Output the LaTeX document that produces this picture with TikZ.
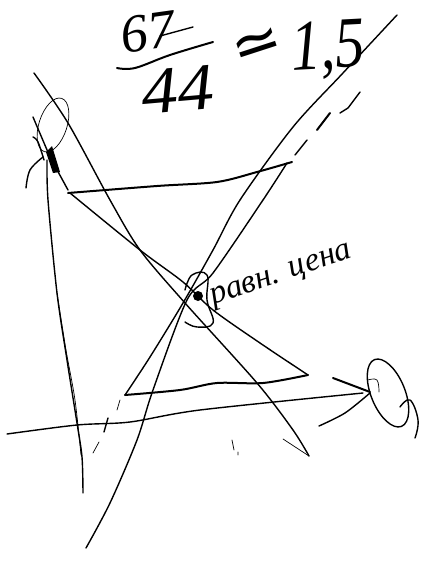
\documentclass[tikz,border=0pt]{standalone}
\usepackage{fontspec}
\setmainfont{Liberation Serif}
\newfontfamily\symfont{DejaVu Sans}
\usepackage{tikz}
\tikzset{
  pen/.style={line width=1.4pt, line cap=round, line join=round},
  thinpen/.style={line width=0.7pt, line cap=round, line join=round},
  heavypen/.style={line width=2pt, line cap=round, line join=round},
  hand/.style={inner sep=0pt, font=\itshape},
}
\begin{document}
\begin{tikzpicture}[x=1pt, y=-1pt]
  \useasboundingbox (0,0) rectangle (432,562);
  % Fraction and estimate
  \node[hand, rotate=8] (numer) at (148,32) {\fontsize{54}{54}\selectfont 67};
  \node[hand, rotate=5, xscale=1.1] (denom) at (178,90) {\fontsize{66}{66}\selectfont 44};
  \node[inner sep=0pt, rotate=18] (approx) at (258,48) {\fontsize{60}{60}\selectfont\symfont ≃};
  \node[hand, rotate=3, xscale=.82] (estim) at (328,50) {\fontsize{72}{72}\selectfont 1,5};
  \draw[heavypen] plot[smooth, tension=.6] coordinates {(117,68) (135,68) (170,55) (213,42)};
  \draw[pen] (160,36) -- (193,27);
  % Falling line with its hook
  \draw[pen] plot[smooth, tension=.5] coordinates {(34,73) (68,123) (110,200) (140,250) (185,303) (257,383) (293,430) (309,456)};
  \draw[thinpen] (309,456) -- (283,439);
  \draw[thinpen] (232,440) -- (234,450) (238,455) -- (238,452);
  % Top side of the triangle
  \draw[heavypen] plot[smooth, tension=.5] coordinates {(68,193) (157,186) (217,182) (257,172) (292,162)};
  % Long diagonal, then bottom side of the triangle
  \draw[pen] plot[smooth, tension=.5] coordinates {(70,193) (140,250) (183,282) (213,310) (260,343) (308,375)};
  \draw[heavypen] plot[smooth, tension=.5] coordinates {(308,375) (263,383) (217,383) (180,390) (125,395)};
  % Rising lines
  \draw[pen] plot[smooth, tension=.5] coordinates {(125,395) (150,357) (183,303) (213,250) (240,200) (293,127) (343,73) (397,15)};
  \draw[pen] plot[smooth, tension=.5] coordinates {(86,548) (110,503) (137,440) (153,390) (187,300) (213,273) (263,200) (287,163)};
  \draw[pen] (295,155) -- (307,140);
  \draw[heavypen] (317,130) -- (330,113);
  \draw[pen] (340,113) -- (348,108) -- (360,92);
  % Dashes below the triangle
  \draw[thinpen] (120,400) -- (117,410);
  \draw[pen] (108,418) -- (104,432);
  \draw[thinpen] (99,442) -- (93,453);
  % Left vertical
  \draw[pen] plot[smooth, tension=.5] coordinates {(47,160) (48,200) (57,293) (67,360) (77,423) (82,457) (83,493)};
  \draw[thinpen] plot[smooth, tension=.5] coordinates {(57,293) (66,350) (75,400) (81,455)};
  % Scribble at the top left
  \draw[thinpen, rotate around={-18:(53,125)}] (53,125) ellipse (14pt and 28pt);
  \draw[pen] (33,117) -- (50,157) -- (68,190);
  \draw[pen] plot[smooth, tension=.6] coordinates {(26,188) (30,170) (43,157)};
  \draw[pen] plot[smooth, tension=.6] coordinates {(33,137) (38,142) (44,160)};
  \fill (46,152) -- (52,146) -- (60,172) -- (53,173) -- cycle;
  % Horizontal line and arrow strokes
  \draw[pen] plot[smooth, tension=.5] coordinates {(7,434) (77,425) (130,422) (200,410) (363,393)};
  \draw[heavypen] (333,378) -- (370,392);
  \draw[pen] plot[smooth, tension=.5] coordinates {(319,426) (345,413) (370,393)};
  % Right scribble
  \draw[pen, rotate around={22:(388,393)}] (388,393) ellipse (17pt and 36pt);
  \draw[pen] plot[smooth, tension=.7] coordinates {(400,407) (410,400) (418,420) (415,438)};
  \draw[thinpen] plot[smooth, tension=.7] coordinates {(368,380) (377,380) (379,392)};
  % Equilibrium point
  \fill (198,296) circle (5pt);
  \draw[pen] plot[smooth, tension=.7] coordinates {(185,290) (192,275) (207,275) (207,300) (213,323) (197,327) (185,322)};
  \node[hand, rotate=19, anchor=west] (label) at (212,301) {\fontsize{33}{33}\selectfont равн. цена};
\end{tikzpicture}
\end{document}
